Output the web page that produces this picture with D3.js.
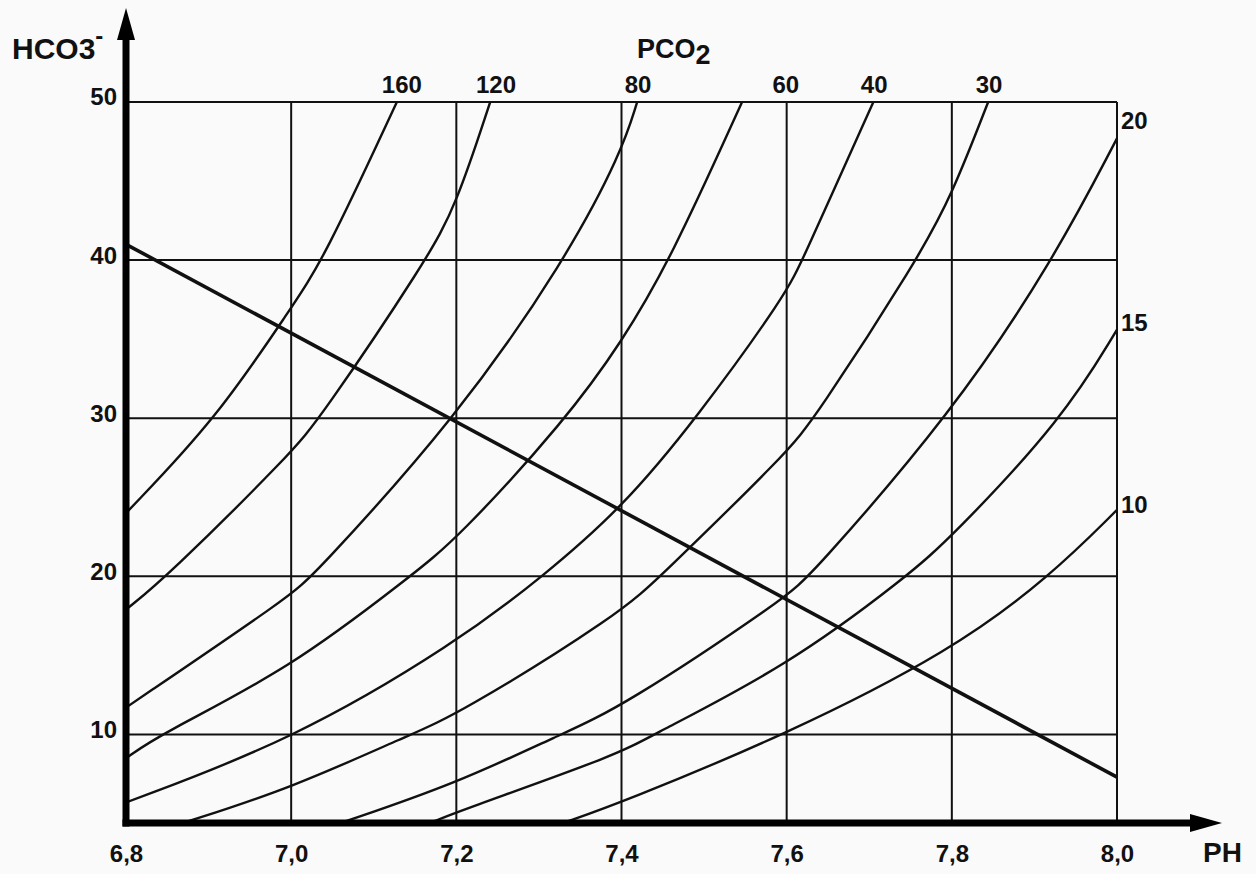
<!DOCTYPE html>
<html>
<head>
<meta charset="utf-8">
<script src="https://cdn.jsdelivr.net/npm/d3@7"></script>
<style>
  body { margin: 0; background: #fafafa; }
  svg text { font-family: "Liberation Sans", Arial, sans-serif; font-weight: bold; fill: #111; }
</style>
</head>
<body>
<svg id="viz" width="1256" height="874"></svg>
<script>
// grid values
const phTicks = [6.8, 7.0, 7.2, 7.4, 7.6, 7.8, 8.0];
const hco3Ticks = [10, 20, 30, 40, 50];

// PCO2 isopleths, [pH, HCO3-]
const pco2_160 = [[6.8,24.0],[6.91,30],[7.0,37.0],[7.039,40],[7.128,50]];
const pco2_120 = [[6.8,17.9],[6.85,20],[7.0,27.8],[7.035,30],[7.164,40],[7.2,43.5],[7.241,50]];
const pco2_80  = [[6.8,11.7],[7.0,18.8],[7.026,20],[7.2,30],[7.332,40],[7.4,46.8],[7.419,50]];
const pco2_60  = [[6.8,8.5],[6.841,10],[7.0,14.2],[7.144,20],[7.2,22.3],[7.334,30],[7.4,34.8],[7.459,40],[7.546,50]];
const pco2_40  = [[6.8,5.7],[7.0,9.6],[7.2,15.8],[7.305,20],[7.4,24.3],[7.491,30],[7.6,37.9],[7.619,40],[7.705,50]];
const pco2_30  = [[6.869,4.4],[7.0,6.6],[7.144,10],[7.2,11.2],[7.4,17.7],[7.447,20],[7.6,27.8],[7.634,30],[7.758,40],[7.8,44.1],[7.844,50]];
const pco2_20  = [[7.06,4.4],[7.2,6.9],[7.326,10],[7.4,11.7],[7.6,18.7],[7.628,20],[7.8,30.3],[7.923,40],[8.0,47.7]];
const pco2_15  = [[7.168,4.4],[7.2,5.1],[7.4,8.8],[7.438,10],[7.6,14.3],[7.746,20],[7.8,22.5],[7.935,30],[8.0,35.6]];
const pco2_10  = [[7.329,4.4],[7.4,5.7],[7.6,10.0],[7.8,15.3],[7.919,20],[8.0,24.2]];

// buffer line
const bufferLine = [[6.8,41.0],[8.0,7.3]];

// labels: [PCO2, pH] along the top, [PCO2, HCO3] on the right
const topLabels = [[160,7.134],[120,7.248],[80,7.420],[60,7.599],[40,7.706],[30,7.845]];
const sideLabels = [[20,48.3],[15,35.5],[10,24.0]];

const isopleths = [pco2_160, pco2_120, pco2_80, pco2_60, pco2_40, pco2_30, pco2_20, pco2_15, pco2_10];

let svg = d3.select('#viz');

let x = d3.scaleLinear().domain([6.8, 8.0]).range([126, 1117]);
let y = d3.scaleLinear().domain([4.4, 50]).range([823, 102]);

svg.append("defs").append("clipPath").attr("id", "plot")
  .append("rect")
  .attr("x", x(6.8)).attr("y", y(50))
  .attr("width", x(8.0) - x(6.8)).attr("height", y(4.4) - y(50));

// grid
svg.selectAll(".vgrid")
    .data(phTicks.slice(1))
  .enter().append("line")
    .attr("x1", d => x(d)).attr("x2", d => x(d))
    .attr("y1", y(4.4)).attr("y2", y(50))
    .attr("stroke", "#111").attr("stroke-width", 2);

svg.selectAll(".hgrid")
    .data(hco3Ticks)
  .enter().append("line")
    .attr("x1", x(6.8)).attr("x2", x(8.0))
    .attr("y1", d => y(d)).attr("y2", d => y(d))
    .attr("stroke", "#111").attr("stroke-width", 2);

// isopleths, smoothed through the read points
let line = d3.line()
  .x(d => x(d[0]))
  .y(d => y(d[1]))
  .curve(d3.curveBasis);

svg.append("g").attr("clip-path", "url(#plot)")
  .selectAll("path")
    .data(isopleths)
  .enter().append("path")
    .attr("d", line)
    .attr("fill", "none")
    .attr("stroke", "#111")
    .attr("stroke-width", 2.4);

svg.append("path")
  .attr("d", d3.line().x(d => x(d[0])).y(d => y(d[1]))(bufferLine))
  .attr("fill", "none")
  .attr("stroke", "#111")
  .attr("stroke-width", 3.6);

// axes (labels only, thick lines drawn below)
let fmt = d => d3.format(".1f")(d).replace(".", ",");

svg.append("g")
  .attr("transform", "translate(0," + y(4.4) + ")")
  .call(d3.axisBottom(x).tickValues(phTicks).tickFormat(fmt).tickSize(0).tickPadding(22))
  .call(g => g.select(".domain").remove())
  .selectAll("text")
    .attr("font-size", 24)
    .attr("font-family", null);

svg.append("g")
  .attr("transform", "translate(" + x(6.8) + ",0)")
  .call(d3.axisLeft(y).tickValues(hco3Ticks).tickSize(0).tickPadding(9))
  .call(g => g.select(".domain").remove())
  .selectAll("text")
    .attr("font-size", 24)
    .attr("dy", "0.12em")
    .attr("font-family", null);

// thick axis lines with arrows
svg.append("line")
  .attr("x1", x(6.8)).attr("x2", x(6.8))
  .attr("y1", y(4.4) + 3.5).attr("y2", 36)
  .attr("stroke", "#000").attr("stroke-width", 7);
svg.append("path")
  .attr("d", "M" + (x(6.8) - 9) + ",40L" + x(6.8) + ",8L" + (x(6.8) + 9) + ",40Z")
  .attr("fill", "#000");

svg.append("line")
  .attr("x1", x(6.8) - 3.5).attr("x2", 1194)
  .attr("y1", y(4.4)).attr("y2", y(4.4))
  .attr("stroke", "#000").attr("stroke-width", 7);
svg.append("path")
  .attr("d", "M1190," + (y(4.4) - 9) + "L1222," + y(4.4) + "L1190," + (y(4.4) + 9) + "Z")
  .attr("fill", "#000");

// curve labels
svg.selectAll(".toplab")
    .data(topLabels)
  .enter().append("text")
    .attr("x", d => x(d[1]))
    .attr("y", y(50) - 9)
    .attr("text-anchor", "middle")
    .attr("font-size", 24)
    .text(d => d[0]);

svg.selectAll(".sidelab")
    .data(sideLabels)
  .enter().append("text")
    .attr("x", x(8.0) + 4)
    .attr("y", d => y(d[1]))
    .attr("font-size", 24)
    .text(d => d[0]);

// titles
let t1 = svg.append("text").attr("x", 12).attr("y", 59).attr("font-size", 30);
t1.append("tspan").text("HCO3");
t1.append("tspan").attr("dy", -15).attr("font-size", 24).text("-");

let t2 = svg.append("text").attr("x", 637).attr("y", 58).attr("font-size", 27);
t2.append("tspan").text("PCO");
t2.append("tspan").attr("dy", 6).attr("font-size", 27).text("2");

svg.append("text").attr("x", 1203).attr("y", 862).attr("font-size", 28).text("PH");
</script>
</body>
</html>
